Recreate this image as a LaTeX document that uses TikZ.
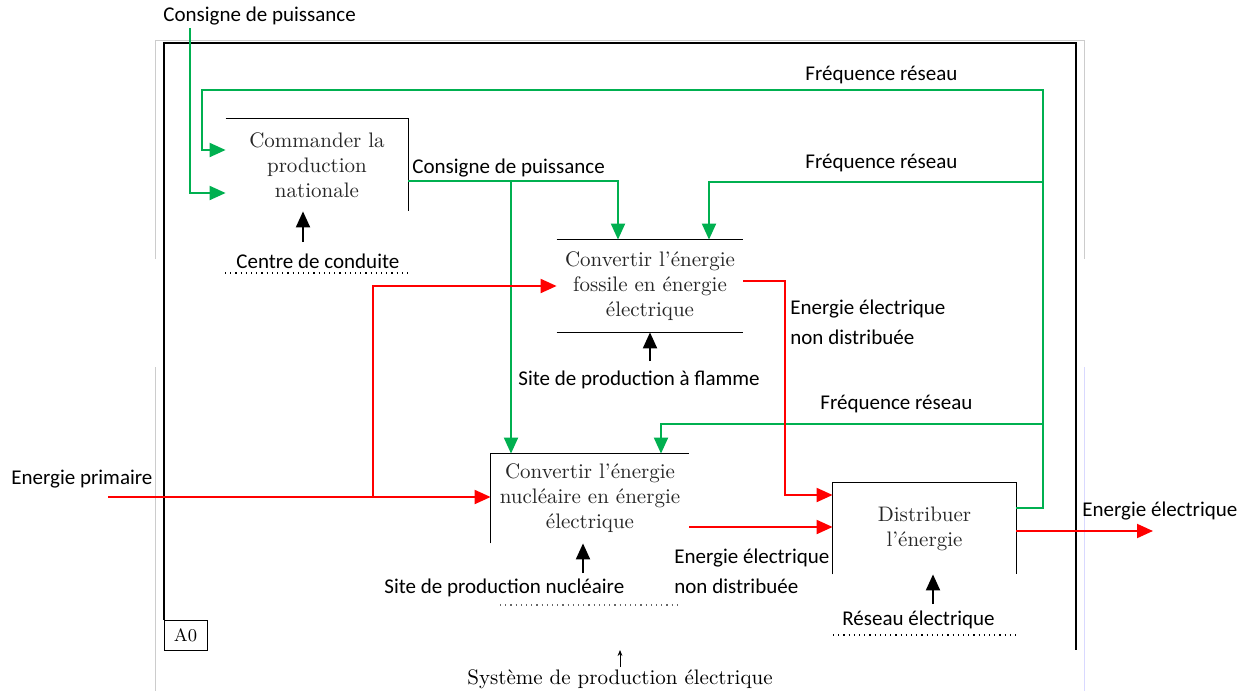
\documentclass[tikz,border=0pt]{standalone}
\usepackage{fontspec}
\newfontfamily\calib{Carlito}
\usetikzlibrary{arrows.meta}
\definecolor{flowgreen}{RGB}{0,176,80}
\definecolor{flowred}{RGB}{255,0,0}

\begin{document}
\begin{tikzpicture}[x=0.5pt,y=-0.5pt,
    activity/.style={inner sep=0pt, align=center, text=black!85, font=\fontsize{10.5}{12.5}\selectfont},
    txt/.style={inner sep=0pt, anchor=west, align=left, font=\calib\fontsize{10.5}{15}\selectfont},
    boxline/.style={line width=0.7pt},
    gflow/.style={draw=flowgreen, line width=1pt, -{Triangle[length=8pt,width=7pt]}},
    rflow/.style={draw=flowred, line width=1pt, -{Triangle[length=8pt,width=7pt]}},
    ctrl/.style={line width=1pt, -{Triangle[length=8pt,width=7pt]}},
    dotline/.style={dotted, line width=0.6pt}]
    \useasboundingbox (0,0) rectangle (1249,691);

    % page and frame
    \draw[black!20] (155,259) -- (155,40) -- (1084,40) -- (1084,259);
    \draw[black!20] (155,367) -- (155,691);
    \draw[blue!15] (1084,367) -- (1084,691);
    \draw[line width=0.9pt] (164,620) -- (164,43) -- (1076,43) -- (1076,650);
    \node[draw, inner sep=0pt, minimum width=21.5pt, minimum height=15pt, font=\fontsize{9}{10}\selectfont] (a0) at (185.5,635) {A0};

    % activities
    \node[activity, minimum width=91pt, minimum height=46pt] (cmd) at (317,165) {Commander la\\production\\nationale};
    \node[activity, minimum width=93pt, minimum height=46pt] (fos) at (650,286) {Convertir l'énergie\\fossile en énergie\\électrique};
    \node[activity, minimum width=99pt, minimum height=44.5pt] (nuc) at (590,498.5) {Convertir l'énergie\\nucléaire en énergie\\électrique};
    \node[activity, minimum width=91.5pt, minimum height=45.5pt] (dis) at (924.5,528.5) {Distribuer\\l'énergie};

    \draw[boxline] (cmd.north west) -- (cmd.north east) -- (cmd.south east);
    \draw[boxline] (fos.north west) -- (fos.north east);
    \draw[boxline] (fos.south west) -- (fos.south east);
    \draw[boxline] (nuc.south west) -- (nuc.north west) -- (nuc.north east);
    \draw[boxline] (dis.south west) -- (dis.north west) -- (dis.north east) -- (dis.south east);

    % labels
    \node[txt] (cpin) at (163,16) {Consigne de puissance};
    \node[txt] (cpout) at (412,168) {Consigne de puissance};
    \node[txt] (fr1) at (805,75) {Fréquence réseau};
    \node[txt] (fr2) at (805,163) {Fréquence réseau};
    \node[txt] (fr3) at (820,404) {Fréquence réseau};
    \node[txt] (ccond) at (236,261) {Centre de conduite};
    \node[txt] (sflam) at (518,380) {Site de production à flamme};
    \node[txt] (snuc) at (384,588) {Site de production nucléaire};
    \node[txt] (rres) at (842,620) {Réseau électrique};
    \node[txt] (eprim) at (11,479) {Energie primaire};
    \node[txt] (efos) at (790,322) {Energie électrique\\non distribuée};
    \node[txt] (enuc) at (674,571.5) {Energie électrique\\non distribuée};
    \node[txt] (eout) at (1082,511) {Energie électrique};
    \node[inner sep=0pt, font=\fontsize{10.5}{12}\selectfont] (sys) at (620,679) {Système de production électrique};

    % frequency loop
    \coordinate (fA) at (1043,90);
    \coordinate (fB) at (1043,182);
    \coordinate (fC) at (1043,424);
    \coordinate (fD) at (1043,508);
    \draw[gflow] (dis.east |- fD) -- (fD) -- (fA) -- (202,90) |- ([yshift=7.5pt]cmd.west);
    \draw[gflow] (fB) -| (fos.north -| 709,0);
    \draw[gflow] (fC) -| (nuc.north -| 661,0);

    % power set point
    \coordinate (cpstart) at (190,28);
    \draw[gflow] (cpstart) |- ([yshift=-14pt]cmd.west);
    \draw[gflow] ([yshift=-8pt]cmd.east) -| (fos.north -| 618,0);
    \draw[gflow] (511,181) -- (nuc.north -| 511,0);

    % energy
    \coordinate (epstart) at (108,497);
    \coordinate (epsplit) at (373,497);
    \coordinate (eend) at (1153,531);
    \draw[rflow] (epstart) -- (nuc.west |- epstart);
    \draw[rflow] (epsplit) |- (fos.west);
    \draw[rflow] ([yshift=2.5pt]fos.east) -- (785,281) |- (dis.west |- 0,495);
    \draw[rflow] (nuc.east |- 0,527) -- (dis.west |- 0,527);
    \draw[rflow] (dis.east |- eend) -- (eend);

    % mechanisms
    \draw[ctrl] (303,242) -- (cmd.south -| 303,0);
    \draw[ctrl] (650,361) -- (fos.south);
    \draw[ctrl] (583,573) -- (nuc.south -| 583,0);
    \draw[ctrl] (933,604) -- (dis.south -| 933,0);
    \draw[dotline] (225,273) -- (408,273);
    \draw[dotline, black!60] (500,605) -- (680,605);
    \draw[dotline] (833,635) -- (1016,635);
    \draw[line width=0.4pt, -{Stealth[length=3pt,width=2.4pt]}] (sys.north -| 620,0) ++(0,-2) -- (620,650);
\end{tikzpicture}
\end{document}
